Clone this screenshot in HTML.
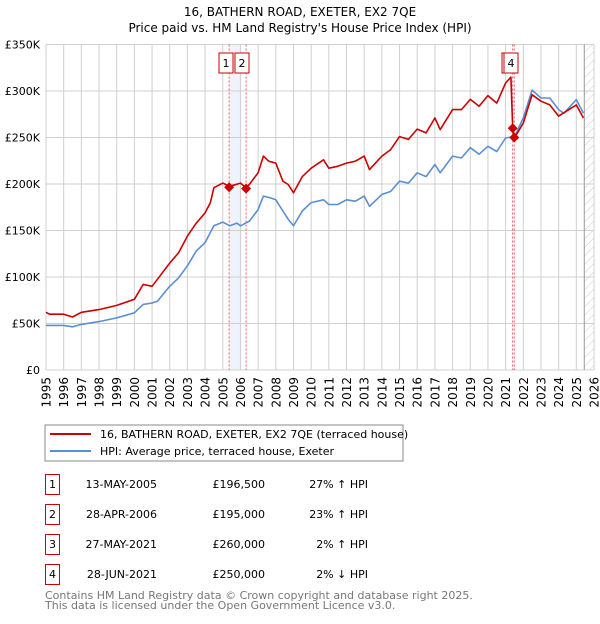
<!DOCTYPE html>
<html><head><meta charset="utf-8"><style>
body{margin:0;background:#fff;font-family:"DejaVu Sans","Liberation Sans",sans-serif;}
svg text{font-family:"DejaVu Sans","Liberation Sans",sans-serif;}
</style></head><body>
<svg id="c" width="600" height="620" viewBox="0 0 600 620">
<text x="300" y="16" text-anchor="middle" font-size="12">16, BATHERN ROAD, EXETER, EX2 7QE</text>
<text x="300" y="32" text-anchor="middle" font-size="12">Price paid vs. HM Land Registry's House Price Index (HPI)</text>
<g id="plot"></g>
<rect x="45" y="425" width="358" height="36" fill="#fff" stroke="#888"/>
<line x1="50" y1="434" x2="91" y2="434" stroke="#cc0000" stroke-width="2"/>
<text x="100" y="438" font-size="11">16, BATHERN ROAD, EXETER, EX2 7QE (terraced house)</text>
<line x1="50" y1="451" x2="91" y2="451" stroke="#5b8fd4" stroke-width="2"/>
<text x="100" y="455" font-size="11">HPI: Average price, terraced house, Exeter</text>
<g id="tbl" font-size="11"></g>
<text x="45" y="599" font-size="11" fill="#777">Contains HM Land Registry data © Crown copyright and database right 2025.</text>
<text x="45" y="609" font-size="11" fill="#777">This data is licensed under the Open Government Licence v3.0.</text>
</svg>
<script>
const hpiYears=[1995,1996,1996.5,1997,1998,1999,2000,2000.5,2001,2001.3,2002,2002.5,2003,2003.5,2004,2004.5,2005,2005.4,2005.8,2006,2006.5,2007,2007.3,2007.7,2008,2008.4,2008.7,2009,2009.5,2010,2010.7,2011,2011.5,2012,2012.5,2013,2013.3,2014,2014.5,2015,2015.5,2016,2016.5,2017,2017.3,2018,2018.5,2019,2019.5,2020,2020.5,2021,2021.5,2022,2022.5,2023,2023.5,2024,2024.3,2025,2025.4];
const hpiValues=[48,48,46.5,49,52,56,61.5,70.5,72,74,90,99,112,128,137,155,159,155,158,155,160,172.5,187,185,183,171,162,155,171,180,183,178,178,183,181.5,187,176,188.7,192,203,201,212,208,221,212,230,228,239,232,240.5,235,249.5,251,271,301,292.5,292.5,280,276,290.7,276];
const priceYears=[1995,1995.2,1996,1996.5,1997,1998,1999,2000,2000.5,2001,2002,2002.5,2003,2003.5,2004,2004.3,2004.5,2005,2005.4,2006,2006.3,2006.5,2007,2007.3,2007.6,2008,2008.4,2008.7,2009,2009.5,2010,2010.7,2011,2011.5,2012,2012.5,2013,2013.3,2014,2014.5,2015,2015.5,2016,2016.5,2017,2017.3,2018,2018.5,2019,2019.5,2020,2020.5,2021,2021.3,2021.4,2021.5,2022,2022.5,2023,2023.5,2024,2025,2025.4];
const priceValues=[62,60,60,57,62,65,69.5,76,92,90,115,126,144,158,169,180,196,201,197.5,201,196,199.5,212,230,224.5,222.5,203,199.5,190.5,208,217,226,217,219,222.5,224.5,230,215.5,230,237,251,248,259,255,271,258.5,280,280,291,283.5,295,287,308.6,315,260,249.5,265.6,296,289,285,273,285,271];
const saleLabels=["1","2","3","4"];
const saleDates=[2005.36,2006.32,2021.4,2021.49];
const salePrices=[196.5,195,260,250];
const saleDateText=["13-MAY-2005","28-APR-2006","27-MAY-2021","28-JUN-2021"];
const salePriceText=["£196,500","£195,000","£260,000","£250,000"];
const salePctText=["27% ↑ HPI","23% ↑ HPI","2% ↑ HPI","2% ↓ HPI"];
const yTicks=[0,50,100,150,200,250,300,350];
const yTickLabels=["£0","£50K","£100K","£150K","£200K","£250K","£300K","£350K"];
const xTicks=[1995,1996,1997,1998,1999,2000,2001,2002,2003,2004,2005,2006,2007,2008,2009,2010,2011,2012,2013,2014,2015,2016,2017,2018,2019,2020,2021,2022,2023,2024,2025,2026];

const X0=46,X1=594,Y0=370,Y1=44.5;
const xs=y=>X0+(y-1995)/(2026-1995)*(X1-X0);
const ys=v=>Y0-v/350*(Y0-Y1);
const NS="http://www.w3.org/2000/svg";
const plot=document.getElementById('plot');
function mk(tag,attrs,parent){const e=document.createElementNS(NS,tag);for(const k in attrs)e.setAttribute(k,attrs[k]);(parent||plot).appendChild(e);return e;}

let e;
e=mk('rect',{x:X0,y:Y1,width:X1-X0,height:Y0-Y1,fill:'#fff'});


e=mk('rect',{x:xs(saleDates[0]),y:Y1,width:xs(2006.05)-xs(saleDates[0]),height:Y0-Y1,fill:'#eef3fc'});


const defs=mk('defs',{});
const pat=mk('pattern',{id:'hatch',width:6,height:6,patternUnits:'userSpaceOnUse',patternTransform:'rotate(45)'},defs);
mk('line',{x1:0,y1:0,x2:0,y2:6,stroke:'#ccc','stroke-width':1},pat);
e=mk('rect',{x:xs(2025.45),y:Y1,width:X1-xs(2025.45),height:Y0-Y1,fill:'url(#hatch)'});


xTicks.forEach((t,i)=>{
 const g=mk('line',{x1:xs(t),y1:Y1,x2:xs(t),y2:Y0,stroke:'#d0d0d0','stroke-width':1});
 
 
 const x=xs(t)+4.5,y=377;
 const l=mk('text',{x:x,y:y,'text-anchor':'end','font-size':12,transform:`rotate(-90 ${x} ${y})`});
 l.textContent=t;
 
 
});
yTicks.forEach((t,i)=>{
 const g=mk('line',{x1:X0,y1:ys(t),x2:X1,y2:ys(t),stroke:'#d0d0d0','stroke-width':1});
 
 
 const l=mk('text',{x:40,y:ys(t)+4,'text-anchor':'end','font-size':11});
 l.textContent=yTickLabels[i];
 
 
});
e=mk('line',{x1:xs(2025.45),y1:Y1,x2:xs(2025.45),y2:Y0,stroke:'#999','stroke-width':1});


saleDates.forEach((d,i)=>{
 const l=mk('line',{x1:xs(d),y1:Y1,x2:xs(d),y2:Y0,stroke:'#e06060','stroke-width':1,'stroke-dasharray':'2,2'});
 
 
});
function path(xa,va,color,name){
 const d=xa.map((x,i)=>(i?'L':'M')+xs(x).toFixed(1)+','+ys(va[i]).toFixed(1)).join('');
 const p=mk('path',{d:d,fill:'none',stroke:color,'stroke-width':1.6,'stroke-linejoin':'round'});
 
 
}
path(hpiYears,hpiValues,'#5b8fd4','hpi-line');
path(priceYears,priceValues,'#cc0000','price-paid-line');
saleDates.forEach((d,i)=>{
 const cx=xs(d),cy=ys(salePrices[i]);
 const m=mk('path',{d:`M${cx},${cy-5}L${cx+5},${cy}L${cx},${cy+5}L${cx-5},${cy}Z`,fill:'#cc0000'});
 
 
});
const boxX=[219,235,502,504];
saleLabels.forEach((s,i)=>{
 const g=mk('g',{});
 
 
 mk('rect',{x:boxX[i],y:53,width:14,height:20,fill:'#fff',stroke:'#cc0000','stroke-width':1},g);
 const t=mk('text',{x:boxX[i]+7,y:67,'text-anchor':'middle','font-size':11},g);
 t.textContent=s;
});
const tbl=document.getElementById('tbl');
saleLabels.forEach((s,i)=>{
 const cy=484+i*30;
 const g=mk('g',{},tbl);
 
 
 mk('rect',{x:45.5,y:cy-9.5,width:14,height:20,fill:'#fff',stroke:'#cc0000'},g);
 let t=mk('text',{x:52.5,y:cy+4,'text-anchor':'middle'},g);t.textContent=s;
 t=mk('text',{x:157,y:cy+4,'text-anchor':'end'},g);t.textContent=saleDateText[i];
 t=mk('text',{x:265,y:cy+4,'text-anchor':'end'},g);t.textContent=salePriceText[i];
 t=mk('text',{x:368,y:cy+4,'text-anchor':'end'},g);t.textContent=salePctText[i];
});
</script>
</body></html>
